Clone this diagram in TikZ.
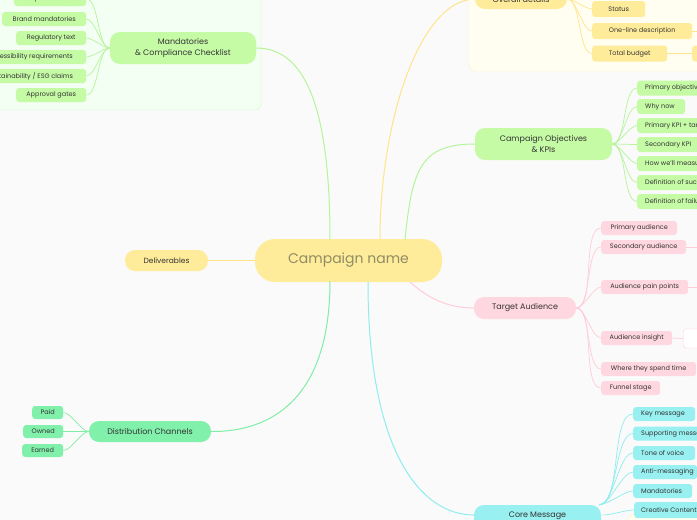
\documentclass[tikz,border=0pt]{standalone}
\usepackage{fontspec}
\setmainfont{Poppins}
\begin{document}
\begin{tikzpicture}[x=1pt,y=-1pt,
  box/.style={rounded corners=#1, draw=none, inner sep=0pt, text=black!80},
  main/.style={box=10pt, font=\fontsize{9}{10.5}\selectfont, align=center},
  leaf/.style={box=3pt, font=\fontsize{6.5}{7}\selectfont, anchor=west, minimum height=14pt},
  cG/.style={fill=G}, cY/.style={fill=Y}, cP/.style={fill=P}, cC/.style={fill=C}, cD/.style={fill=D},
  lnG/.style={draw=GL, line width=1pt}, lnY/.style={draw=YL, line width=1pt},
  lnP/.style={draw=PL, line width=1pt}, lnC/.style={draw=CL, line width=1pt}, lnD/.style={draw=DL, line width=1pt},
  br/.style={out=0,in=180,looseness=0.6}, bl/.style={out=180,in=0,looseness=0.6}]
\definecolor{G}{HTML}{C6FBA6}\definecolor{GL}{HTML}{B4F59A}
\definecolor{Y}{HTML}{FFEC9A}\definecolor{YL}{HTML}{FFE58A}
\definecolor{P}{HTML}{FFD7E0}\definecolor{PL}{HTML}{FFCCD8}
\definecolor{C}{HTML}{98F0F0}\definecolor{CL}{HTML}{8EEDEE}
\definecolor{D}{HTML}{80F0AA}\definecolor{DL}{HTML}{80EDA6}
\fill[white!98!black] (0,0) rectangle (697,520);
\useasboundingbox (0,0) rectangle (697,520);
\clip (0,0) rectangle (697,520);
% panels
\draw[rounded corners=6pt, fill=green!5, draw=GL!60] (-20,-20) rectangle (261,110);
\draw[rounded corners=6pt, fill=yellow!6, draw=YL!60] (469,-20) rectangle (720,71);
\draw[rounded corners=6pt, fill=yellow!6, draw=YL!60] (628,514) rectangle (720,540);
% central
\node[box=20pt, fill=Y, minimum width=187pt, minimum height=43pt, text=black!50!yellow!60!gray, font=\fontsize{14}{16}\selectfont] (root) at (348.5,260.5) {Campaign name};
% main nodes
\node[main, cY, minimum width=83pt, minimum height=21pt] (deliv) at (166.5,260.5) {\fontsize{7.5}{9}\selectfont Deliverables};
\node[main, cD, minimum width=122pt, minimum height=21pt] (dist) at (150,431.5) {\fontsize{8}{9}\selectfont Distribution Channels};
\node[main, cG, minimum width=146pt, minimum height=32pt] (mand) at (183,48) {\fontsize{8}{9.5}\selectfont Mandatories\\\fontsize{8}{9.5}\selectfont\& Compliance Checklist};
\node[main, cY, minimum width=92pt, minimum height=20pt] (over) at (521,-1) {\fontsize{8}{9}\selectfont Overall details};
\node[main, cG, minimum width=137pt, minimum height=32pt] (obj) at (543.5,144) {\fontsize{8}{9.5}\selectfont Campaign Objectives\\\fontsize{8}{9.5}\selectfont\& KPIs};
\node[main, cP, minimum width=102pt, minimum height=22pt] (aud) at (525,308) {\fontsize{8}{9}\selectfont Target Audience};
\node[main, cC, minimum width=127pt, minimum height=30pt] (core) at (537.5,520) {};
\node[font=\fontsize{8}{9}\selectfont, text=black!80] at (537.5,516) {Core Message};
% root connectors
\draw[lnY] (root.west) -- (deliv.east);
\draw[lnG] (330,240) .. controls (330,120) and (310,48) .. (mand.east);
\draw[lnY] (380,240) .. controls (380,120) and (420,0) .. (over.west);
\draw[lnG] (405,240) .. controls (412,170) and (420,144) .. (obj.west);
\draw[lnP] (410,282) .. controls (430,300) and (450,308) .. (aud.west);
\draw[lnC] (368,282) .. controls (368,450) and (420,515) .. (474,515);
\draw[lnD] (330,281) .. controls (330,400) and (270,432) .. (dist.east);
% distribution leaves
\foreach \n/\t/\x/\y in {pd/Paid/32/412.5,ow/Owned/23/431.5,ea/Earned/22/450.5}{
  \node[leaf, cD, minimum width=63pt-\x pt, minimum height=13pt] (\n) at (\x,\y) {\t};
  \draw[lnD, line width=0.7pt] (dist.west) to[bl] (\n.east);}
% mandatories leaves
\foreach \n/\t/\x/\y in {m1/Required claims/14/-1,m2/Brand mandatories/2/19,m3/Regulatory text/16/38,m4/Accessibility requirements/-26/57,m5/Sustainability \slash{} ESG claims/-26/76,m6/Approval gates/16/95}{
  \node[leaf, cG, minimum width=86pt-\x pt] (\n) at (\x,\y) {\t};
  \draw[lnG, line width=0.7pt] (mand.west) to[bl] (\n.east);}
% overall leaves
\foreach \n/\t/\w/\y in {o1/Status/53/9,o2/One-line description/100/31,o3/Total budget/75/53.5}{
  \node[leaf, cY, minimum width=\w pt, minimum height=16pt] (\n) at (592,\y) {\t};
  \draw[lnY, line width=0.7pt] (over.east) to[br] (\n.west);}
\node[leaf, cY, minimum width=30pt, minimum height=16pt] (o4) at (692,53.5) {};
\draw[lnY, line width=0.7pt] (o3.east) -- (o4.west);
\draw[lnY, line width=0.7pt] (o2.east) -- (700,31);
\draw[lnY, line width=0.7pt] (over.east) to[br] (592,-12);
% objectives leaves
\foreach \n/\t/\w/\y in {b1/Primary objective/80/88,b2/Why now/48/106.5,b3/Primary KPI + target/80/125.5,b4/Secondary KPI/80/144.5,b5/How we'll measure/80/163.5,b6/Definition of success/80/182.5,b7/Definition of failure/80/201.5}{
  \node[leaf, cG, minimum width=\w pt, minimum height=15pt] (\n) at (637,\y) {\makebox[\dimexpr\w pt-16pt\relax][l]{\t}};
  \draw[lnG, line width=0.7pt] (obj.east) to[br] (\n.west);}
% audience leaves
\foreach \n/\t/\w/\y in {a1/Primary audience/76/228,a2/Secondary audience/85/247,a3/Audience pain points/87/287,a4/Audience insight/71/338,a5/Where they spend time/95/369,a6/Funnel stage/59/388}{
  \node[leaf, cP, minimum width=\w pt] (\n) at (601,\y) {\t};
  \draw[lnP, line width=0.7pt] (aud.east) to[br] (\n.west);}
\node[leaf, fill=white, draw=PL, minimum width=30pt, minimum height=19pt] (a7) at (683,338.5) {};
\draw[lnP, line width=0.7pt] (a4.east) -- (a7.west);
\draw[lnP, line width=0.7pt] (a2.east) -- (700,247);
\draw[lnP, line width=0.7pt] (a3.east) -- (700,287);
% core leaves
\foreach \n/\t/\w/\y in {c1/Key message/62/414,c2/Supporting messages/80/433.5,c3/Tone of voice/62/453,c4/Anti-messaging/64/472,c5/Mandatories/59/491}{
  \node[leaf, cC, minimum width=\w pt] (\n) at (633,\y) {\makebox[\dimexpr\w pt-16pt\relax][l]{\t}};
  \draw[lnC, line width=0.7pt] (core.north east) ++(-2,0) to[out=0,in=180,looseness=0.6] (\n.west);}
\node[leaf, cC, minimum width=80pt, minimum height=16pt] (c6) at (634,510) {\makebox[66pt][l]{Creative Content}};
\draw[lnC, line width=0.7pt] (603,515) to[br] (c6.west);
\end{tikzpicture}
\end{document}
